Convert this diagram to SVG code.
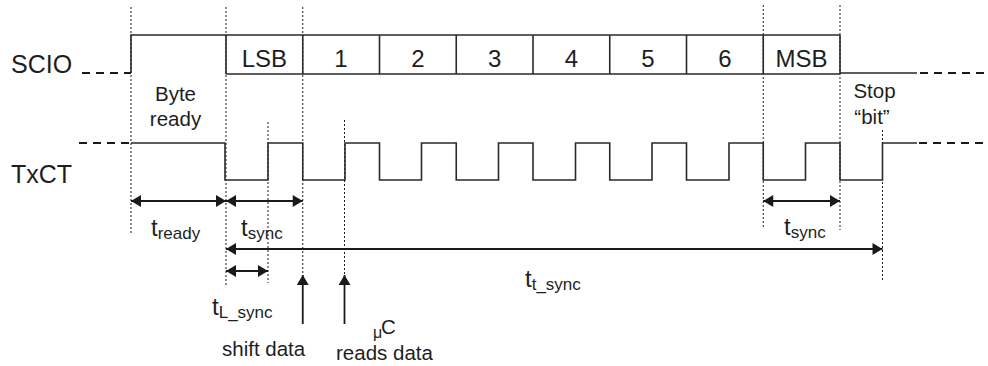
<svg xmlns="http://www.w3.org/2000/svg" width="988" height="366" viewBox="0 0 988 366">
<defs>
<marker id="ah" viewBox="0 0 10 12" refX="10" refY="6" markerWidth="11" markerHeight="12" markerUnits="userSpaceOnUse" orient="auto-start-reverse">
<path d="M0,0 L10,6 L0,12 z" fill="#1a1a1a"/>
</marker>
</defs>
<style>
.w{fill:none;stroke:#2a2a2a;stroke-width:1.6}
.dash{fill:none;stroke:#1a1a1a;stroke-width:2;stroke-dasharray:8,6}
.dot{fill:none;stroke:#1a1a1a;stroke-width:1;stroke-dasharray:2,2}
.arr{fill:none;stroke:#1a1a1a;stroke-width:1.8}
text{font-family:"Liberation Sans",Arial,sans-serif;fill:#1e1e1e}
.sig{font-size:25px}
.bit{font-size:24px;text-anchor:middle}
.lbl{font-size:20.5px}
.t{font-size:24px}
.sub{font-size:17px}
</style>
<rect width="988" height="366" fill="#fff"/>
<g id="signal-labels">
<text class="sig" x="11" y="73">SCIO</text>
<text class="sig" x="11" y="183">TxCT</text>
</g>
<g id="guides">
<path class="dot" d="M131,7V233 M226,7V285 M302.75,7V277 M268,122V283 M344.5,120V277 M763.25,5V228 M840,5V230 M882.5,130V280"/>
</g>
<g id="scio">
<path class="dash" d="M82,73H131 M920,73H988"/>
<path class="w" d="M131,73V35H840 M226,74H840 M226,35V74 M302.75,35V74 M379.5,35V74 M456.25,35V74 M533,35V74 M609.75,35V74 M686.5,35V74 M763.25,35V74 M840,35V74 M840,73H917"/>
<text class="bit" x="264.4" y="67">LSB</text>
<text class="bit" x="341" y="67">1</text>
<text class="bit" x="418" y="67">2</text>
<text class="bit" x="494.6" y="67">3</text>
<text class="bit" x="571.4" y="67">4</text>
<text class="bit" x="648" y="67">5</text>
<text class="bit" x="725" y="67">6</text>
<text class="bit" x="801.6" y="67">MSB</text>
</g>
<g id="txct">
<path class="dash" d="M79,143H131 M919,143H988"/>
<path class="w" d="M131,143H225V180H268V143H302.75V180H345V143H379.5V180H421.5V143H456.25V180H498.5V143H533V180H575.5V143H609.75V180H652V143H686.5V180H729V143H763.25V180H805.5V143H840V180H882.5V143H917"/>
</g>
<g id="annotations">
<text class="lbl" x="175.5" y="101" text-anchor="middle">Byte</text>
<text class="lbl" x="175.5" y="126" text-anchor="middle">ready</text>
<text class="lbl" x="874.5" y="98" text-anchor="middle">Stop</text>
<text class="lbl" x="872" y="124" text-anchor="middle">“bit”</text>
</g>
<g id="connectors">
<line class="arr" x1="131" y1="201" x2="226" y2="201" marker-start="url(#ah)" marker-end="url(#ah)"/>
<line class="arr" x1="226" y1="201" x2="302.75" y2="201" marker-start="url(#ah)" marker-end="url(#ah)"/>
<line class="arr" x1="763.25" y1="201" x2="840" y2="201" marker-start="url(#ah)" marker-end="url(#ah)"/>
<line class="arr" x1="226" y1="249" x2="882.5" y2="249" marker-start="url(#ah)" marker-end="url(#ah)"/>
<line class="arr" x1="226" y1="271" x2="268" y2="271" marker-start="url(#ah)" marker-end="url(#ah)"/>
<line class="arr" x1="302.75" y1="324" x2="302.75" y2="275" marker-end="url(#ah)"/>
<line class="arr" x1="344.5" y1="324" x2="344.5" y2="275" marker-end="url(#ah)"/>
</g>
<g id="timing-labels">
<text x="151" y="236"><tspan class="t">t</tspan><tspan class="sub" dy="3">ready</tspan></text>
<text x="241" y="236"><tspan class="t">t</tspan><tspan class="sub" dy="3">sync</tspan></text>
<text x="784" y="235"><tspan class="t">t</tspan><tspan class="sub" dy="3">sync</tspan></text>
<text x="525" y="287"><tspan class="t">t</tspan><tspan class="sub" dy="3">t_sync</tspan></text>
<text x="212" y="315"><tspan class="t">t</tspan><tspan class="sub" dy="3">L_sync</tspan></text>
<text class="lbl" x="222" y="356">shift data</text>
<text x="373" y="338" style="font-size:16px">μ</text>
<text x="381" y="334" class="lbl">C</text>
<text class="lbl" x="336" y="360">reads data</text>
</g>
</svg>
